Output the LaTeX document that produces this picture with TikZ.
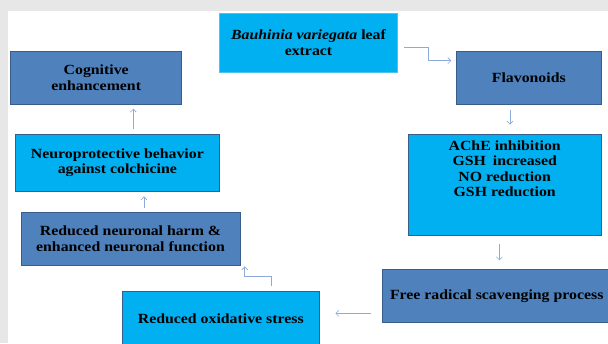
\documentclass[tikz,border=0pt]{standalone}
\usepackage{fontspec}
\setmainfont{Liberation Serif}[FakeStretch=1.13]
\usetikzlibrary{arrows.meta,calc}
\definecolor{darkbox}{HTML}{4F81BD}
\definecolor{darkedge}{HTML}{385D8A}
\definecolor{cyanbox}{HTML}{00B0F0}
\definecolor{cyanedge}{HTML}{4FC3F0}
\definecolor{arrcol}{HTML}{8EAADB}
\definecolor{bggray}{HTML}{E7E7E7}
\begin{document}
\begin{tikzpicture}[x=1pt,y=-1pt,
  box/.style={draw=darkedge, line width=0.9pt, inner sep=0pt, align=center,
    font=\bfseries\fontsize{14}{15.5}\selectfont, text=black},
  darkbx/.style={box, fill=darkbox},
  cyanbx/.style={box, fill=cyanbox},
  boxtext/.style={inner sep=0pt, align=center, font=\bfseries\fontsize{14}{15.5}\selectfont, text=black},
  arr/.style={draw=arrcol, line width=0.6pt, -{Straight Barb[length=3pt,width=6pt]}},
]
\useasboundingbox (0,0) rectangle (608,343);
\fill[bggray] (0,0) rectangle (608,343);
\fill[white] (8,11) rectangle (608,343);

\node[cyanbx, draw=cyanedge, minimum width=178.4pt, minimum height=59pt] (bau) at (308.5,42.8)
  {{\itshape Bauhinia variegata} leaf\\extract};
\node[darkbx, minimum width=171pt, minimum height=53pt] (cog) at (96.2,77.5) {Cognitive\\enhancement};
\node[darkbx, minimum width=144.3pt, minimum height=53pt] (flav) at (528.8,77.5) {Flavonoids};
\node[cyanbx, minimum width=192.7pt, minimum height=101pt] (ache) at (504.7,184.5) {};
\node[boxtext] (achetxt) at ($(ache.north)+(0,35.2)$)
  {AChE inhibition\\GSH\hspace{0.5em}increased\\NO reduction\\GSH reduction};
\node[cyanbx, minimum width=203.3pt, minimum height=57pt] (neuro) at (117.35,162.5)
  {Neuroprotective behavior\\against colchicine};
\node[darkbx, minimum width=219pt, minimum height=53pt] (harm) at (130.5,238.8)
  {Reduced neuronal harm \&\\enhanced neuronal function};
\node[cyanbx, minimum width=197pt, minimum height=55pt] (ox) at (220.8,318.5) {Reduced oxidative stress};
\node[darkbx, minimum width=228.7pt, minimum height=52.7pt] (free) at (496.7,295.7) {Free radical scavenging process};

% connector end points
\coordinate (a1s) at ($(bau.east)+(6.3,4.5)$);
\coordinate (a1e) at ($(flav.west)+(-5,-16.8)$);
\coordinate (a2s) at ($(flav.south)+(-18.8,6)$);
\coordinate (a2e) at ($(ache.north)+(5.3,-9)$);
\coordinate (a3s) at ($(ache.south)+(-5.4,8.3)$);
\coordinate (a3e) at ($(free.north)+(2.6,-8.6)$);
\coordinate (a4s) at ($(free.west)+(-10.6,17.6)$);
\coordinate (a4e) at ($(ox.east)+(15.7,-5.2)$);
\coordinate (a5s) at ($(ox.north)+(50.2,-4.3)$);
\coordinate (a5e) at ($(harm.south east)+(4.3,0.7)$);
\coordinate (a6s) at ($(harm.north)+(13.5,-4)$);
\coordinate (a6e) at ($(neuro.south)+(26.65,5)$);
\coordinate (a7s) at ($(neuro.north)+(15.95,-4.5)$);
\coordinate (a7e) at ($(cog.south)+(37.1,4.3)$);

\draw[arr] (a1s) -- ++(23.7,0) |- (a1e);
\draw[arr] (a2s) -- (a2e);
\draw[arr] (a3s) -- (a3e);
\draw[arr] (a4s) -- (a4e);
\draw[arr] (a5s) -- ++(0,-10) -| (a5e);
\draw[arr] (a6s) -- (a6e);
\draw[arr] (a7s) -- (a7e);
\end{tikzpicture}
\end{document}
